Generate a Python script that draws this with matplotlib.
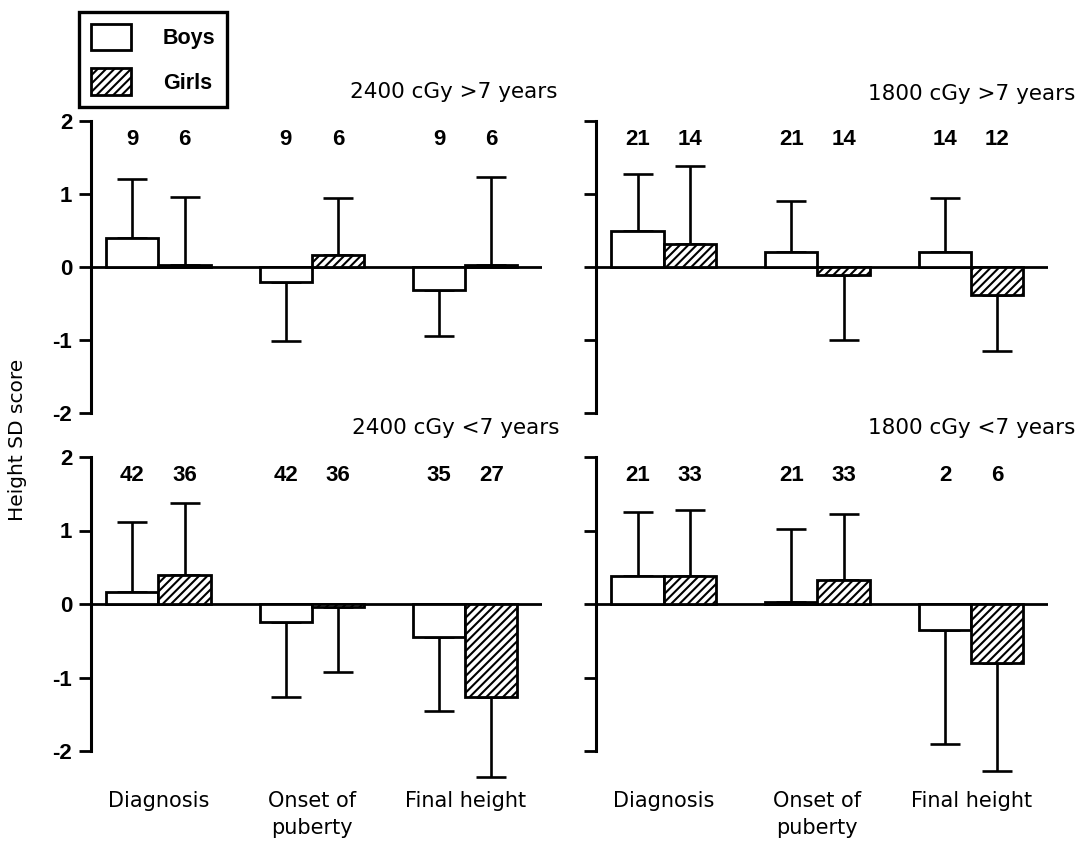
import numpy as np
import matplotlib
matplotlib.use("Agg")
import matplotlib.pyplot as plt
from matplotlib.patches import Patch

plt.rcParams['font.family'] = ['DejaVu Sans']
plt.rcParams['hatch.linewidth'] = 1.5

categories = ['Diagnosis', 'Onset of\npuberty', 'Final height']
titles = ['2400 cGy >7 years', '1800 cGy >7 years', '2400 cGy <7 years', '1800 cGy <7 years']

# 2400 cGy, >7 years
boys_mean_a = [0.40, -0.20, -0.32]
boys_sd_a = [0.81, 0.82, 0.62]
girls_mean_a = [0.03, 0.16, 0.03]
girls_sd_a = [0.93, 0.78, 1.20]
boys_n_a = [9, 9, 9]
girls_n_a = [6, 6, 6]

# 1800 cGy, >7 years
boys_mean_b = [0.50, 0.21, 0.20]
boys_sd_b = [0.78, 0.69, 0.75]
girls_mean_b = [0.32, -0.11, -0.38]
girls_sd_b = [1.07, 0.89, 0.77]
boys_n_b = [21, 21, 14]
girls_n_b = [14, 14, 12]

# 2400 cGy, <7 years
boys_mean_c = [0.17, -0.24, -0.45]
boys_sd_c = [0.94, 1.03, 1.01]
girls_mean_c = [0.40, -0.04, -1.26]
girls_sd_c = [0.97, 0.88, 1.10]
boys_n_c = [42, 42, 35]
girls_n_c = [36, 36, 27]

# 1800 cGy, <7 years
boys_mean_d = [0.38, 0.03, -0.35]
boys_sd_d = [0.87, 0.99, 1.55]
girls_mean_d = [0.38, 0.33, -0.80]
girls_sd_d = [0.90, 0.90, 1.47]
boys_n_d = [21, 21, 2]
girls_n_d = [33, 33, 6]

panels = [
    (boys_mean_a, boys_sd_a, girls_mean_a, girls_sd_a, boys_n_a, girls_n_a),
    (boys_mean_b, boys_sd_b, girls_mean_b, girls_sd_b, boys_n_b, girls_n_b),
    (boys_mean_c, boys_sd_c, girls_mean_c, girls_sd_c, boys_n_c, girls_n_c),
    (boys_mean_d, boys_sd_d, girls_mean_d, girls_sd_d, boys_n_d, girls_n_d),
]

W, H = 1079, 844
fig = plt.figure(figsize=(W / 100, H / 100), dpi=100)

# axes boxes in pixels: left, right, top, bottom
boxes = [(91, 542, 121, 413), (596, 1048, 121, 413),
         (91, 542, 457, 751), (596, 1048, 457, 751)]
title_pos = [(558, 92), (1075, 94), (560, 428), (1075, 428)]

num_font = {'family': 'Liberation Sans', 'weight': 'bold', 'size': 16}

x = np.arange(3)
w = 0.34
lw = 2.0

for i, (bm, bsd, gm, gsd, bn, gn) in enumerate(panels):
    l, r, t, b = boxes[i]
    ax = fig.add_axes([l / W, 1 - b / H, (r - l) / W, (b - t) / H])
    ax.set_xlim(-0.44, 2.5)
    ax.set_ylim(-2, 2)
    for s in ['top', 'right', 'bottom']:
        ax.spines[s].set_visible(False)
    ax.spines['left'].set_linewidth(2.2)
    ax.axhline(0, color='black', lw=2.0, zorder=1)

    ax.bar(x - w / 2, bm, w, color='white', edgecolor='black', linewidth=lw, zorder=3)
    ax.bar(x + w / 2, gm, w, color='white', edgecolor='black', hatch='////', linewidth=lw, zorder=3)

    for xs, m, sd in [(x - w / 2, bm, bsd), (x + w / 2, gm, gsd)]:
        m = np.array(m)
        sd = np.array(sd)
        lower = np.where(m < 0, sd, 0)
        upper = np.where(m >= 0, sd, 0)
        ax.errorbar(xs, m, yerr=[lower, upper], fmt='none', ecolor='black',
                    elinewidth=1.9, capsize=10.5, capthick=1.9, clip_on=False, zorder=2)

    for j in range(3):
        ax.text(x[j] - w / 2, 1.75, str(bn[j]), ha='center', va='center', fontdict=num_font)
        ax.text(x[j] + w / 2, 1.75, str(gn[j]), ha='center', va='center', fontdict=num_font)

    ax.set_yticks([-2, -1, 0, 1, 2])
    ax.tick_params(axis='y', length=8.5, width=2.0, pad=5)
    if i % 2 == 0:
        ax.set_yticklabels(['-2', '-1', '0', '1', '2'], fontdict=num_font)
    else:
        ax.set_yticklabels([])

    if i >= 2:
        ax.set_xticks(x)
        ax.set_xticklabels(categories, fontsize=15, linespacing=1.4)
        ax.tick_params(axis='x', length=0, pad=29)
    else:
        ax.set_xticks([])

    tx, ty = title_pos[i]
    fig.text(tx / W, 1 - ty / H, titles[i], ha='right', va='center', fontsize=15.5)

fig.text(18 / W, 1 - 440 / H, 'Height SD score', rotation=90, ha='center', va='center', fontsize=14.5)

handles = [Patch(facecolor='white', edgecolor='black', linewidth=lw, label='Boys'),
           Patch(facecolor='white', edgecolor='black', hatch='////', linewidth=lw, label='Girls')]
leg = fig.legend(handles=handles, loc='upper left', bbox_to_anchor=(79 / W, 1 - 12 / H),
                 prop={'family': 'Liberation Sans', 'weight': 'bold', 'size': 15.5},
                 fancybox=False, borderaxespad=0,
                 handlelength=1.85, handleheight=1.5, handletextpad=1.5,
                 labelspacing=0.85, borderpad=0.55, edgecolor='black', framealpha=1)
leg.get_frame().set_linewidth(2.4)

fig.savefig('out.png', dpi=100)
